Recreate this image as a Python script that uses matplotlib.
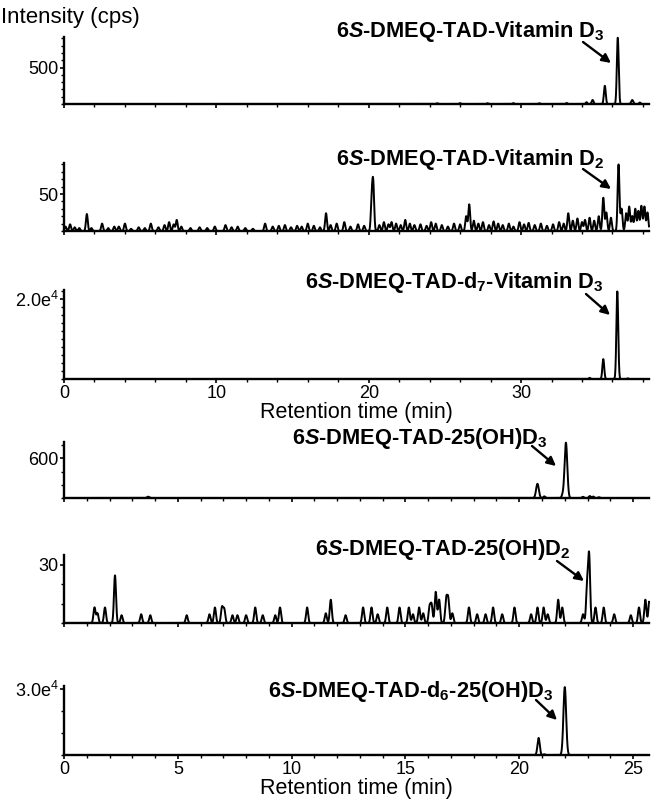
import numpy as np
import matplotlib
matplotlib.use("Agg")
import matplotlib.pyplot as plt
from matplotlib.ticker import MultipleLocator

plt.rcParams['font.family'] = 'Liberation Sans'
plt.rcParams['mathtext.fontset'] = 'custom'
plt.rcParams['mathtext.rm'] = 'Liberation Sans'
plt.rcParams['mathtext.it'] = 'Liberation Sans:italic'
plt.rcParams['mathtext.bf'] = 'Liberation Sans:bold'
plt.rcParams['mathtext.bfit'] = 'Liberation Sans:bold:italic'

# ---- data: peaks (time min, height cps, width min)
# Vitamin D3
d3_t = [24.5, 26.0, 27.8, 29.5, 31.2, 33.0, 34.3, 34.7, 35.5, 36.35, 37.3, 37.8]
d3_h = [10, 12, 10, 12, 10, 14, 25, 55, 250, 910, 55, 20]
d3_w = [0.05, 0.05, 0.05, 0.05, 0.05, 0.05, 0.05, 0.06, 0.06, 0.06, 0.07, 0.05]

# Vitamin D2 (noisy trace)
d2_t = [0.1, 0.4, 0.7, 1.0, 1.5, 1.8, 2.5, 2.9, 3.3, 3.6, 4.0, 4.4, 4.9, 5.3, 5.7, 6.2,
        6.6, 6.9, 7.2, 7.4, 7.7, 8.3, 8.9, 9.4, 9.9, 10.6, 11.0, 11.4, 11.9, 12.4, 13.2,
        13.7, 14.1, 14.5, 14.9, 15.3, 15.6, 16.0, 16.4, 16.8, 17.2, 17.5, 17.9, 18.4,
        18.8, 19.3, 19.7, 20.2, 20.3, 20.7, 21.0, 21.3, 21.5, 21.8, 22.1, 22.4, 22.7,
        23.0, 23.4, 23.8, 24.1, 24.4, 24.8, 25.2, 25.6, 26.0, 26.4, 26.6, 26.9, 27.2,
        27.5, 27.9, 28.2, 28.5, 28.8, 29.2, 29.5, 29.9, 30.2, 30.5, 30.9, 31.3, 31.7,
        32.1, 32.5, 32.8, 33.1, 33.4, 33.7, 34.0, 34.2, 34.5, 34.8, 35.1, 35.4, 35.6,
        35.9, 36.4, 36.6, 36.9, 37.1, 37.3, 37.5, 37.7, 37.9, 38.1, 38.3]
d2_h = [6, 9, 5, 4, 23, 4, 10, 4, 6, 6, 10, 3, 5, 4, 10, 5,
        8, 12, 9, 15, 6, 4, 5, 4, 6, 8, 5, 6, 4, 3, 10,
        6, 7, 8, 5, 7, 6, 10, 7, 5, 24, 8, 10, 12,
        6, 9, 7, 40, 60, 8, 12, 9, 12, 10, 8, 15, 10,
        8, 9, 7, 12, 10, 8, 6, 10, 9, 20, 36, 14, 10,
        12, 8, 13, 10, 8, 10, 6, 12, 9, 11, 8, 10, 7,
        9, 12, 10, 24, 14, 17, 12, 15, 18, 14, 20, 45, 25,
        18, 90, 30, 24, 33, 20, 30, 27, 34, 33, 25]

# d7-Vitamin D3
d7_t = [34.5, 35.4, 36.32, 37.0]
d7_h = [300, 5000, 22000, 150]
d7_w = [0.05, 0.06, 0.06, 0.05]

# 25(OH)D3
oh3_t = [3.7, 20.8, 21.1, 21.9, 22.05, 22.8, 23.1, 23.25, 23.5]
oh3_h = [20, 215, 25, 40, 840, 18, 30, 22, 12]
oh3_w = [0.05, 0.06, 0.04, 0.04, 0.06, 0.04, 0.04, 0.04, 0.04]

# 25(OH)D2 (noisy trace)
oh2_t = [1.34, 1.47, 1.80, 2.24, 2.53, 3.39, 3.79, 5.39, 6.39, 6.63, 6.94, 7.04, 7.40,
         7.62, 8.00, 8.40, 8.73, 9.28, 9.49, 10.68, 11.50, 11.72, 12.37, 13.14, 13.51,
         13.78, 14.20, 14.74, 15.15, 15.33, 15.60, 15.78, 16.06, 16.15, 16.33, 16.48,
         16.79, 16.88, 17.06, 17.79, 18.15, 18.52, 18.85, 19.25, 19.79, 20.52, 20.80,
         21.07, 21.25, 21.71, 21.89, 22.80, 22.98, 23.07, 23.35, 23.71, 24.17, 24.90,
         25.26, 25.54, 25.72]
oh2_h = [8, 5, 8, 24.5, 4, 4.5, 4, 4, 4.5, 8, 8, 7, 4,
         4, 4, 8, 4, 4, 8, 8, 5, 12, 4, 8, 8,
         4.5, 8, 8, 8, 4.5, 8, 5, 8, 9, 16, 12,
         12, 12, 5, 8, 4.5, 4.5, 8, 4.5, 8, 4.5, 8,
         8, 4.5, 12, 8, 4.5, 18, 34, 8, 8, 4.5, 4,
         8, 12, 12]

# d6-25(OH)D3
d6_t = [20.85, 21.1, 22.0]
d6_h = [7800, 300, 31000]
d6_w = [0.05, 0.04, 0.06]

titles = [
    r'6$\mathbfit{S}$-DMEQ-TAD-Vitamin D$_\mathbf{3}$',
    r'6$\mathbfit{S}$-DMEQ-TAD-Vitamin D$_\mathbf{2}$',
    r'6$\mathbfit{S}$-DMEQ-TAD-d$_\mathbf{7}$-Vitamin D$_\mathbf{3}$',
    r'6$\mathbfit{S}$-DMEQ-TAD-25(OH)D$_\mathbf{3}$',
    r'6$\mathbfit{S}$-DMEQ-TAD-25(OH)D$_\mathbf{2}$',
    r'6$\mathbfit{S}$-DMEQ-TAD-d$_\mathbf{6}$-25(OH)D$_\mathbf{3}$',
]


def trace(t, times, heights, widths):
    y = np.zeros_like(t)
    for c, h, w in zip(times, heights, widths):
        y += h * np.exp(-0.5 * ((t - c) / w) ** 2)
    return y


W, H = 651, 799
fig = plt.figure(figsize=(W / 100, H / 100), dpi=100)

# panel boxes in pixels: (top, bottom)
boxes = [(37, 104), (163, 231), (290, 379), (442, 498), (555, 623), (686, 755)]
xmax = [38.4, 38.4, 38.4, 25.7, 25.7, 25.7]
ymax = [920, 92, 22350, 850, 35, 31500]
yticks = [[500], [50], [2e4], [600], [30], [3e4]]
ylabels = [['500'], ['50'], ['2.0e$^4$'], ['600'], ['30'], ['3.0e$^4$']]
yminor = [100, 10, 2000, 200, 10, 1e4]
title_pos = [(605, 32), (605, 159), (604, 282), (547, 438), (570, 550), (553, 692)]
arrows = [((583, 42), (611, 63)), ((583, 169), (611, 189)), ((586, 294), (610, 315)),
          ((532, 446), (556, 466)), ((557, 561), (584, 581)), ((536, 700), (557, 720))]

peaks = [
    (d3_t, d3_h, d3_w),
    (d2_t, d2_h, [0.06] * len(d2_t)),
    (d7_t, d7_h, d7_w),
    (oh3_t, oh3_h, oh3_w),
    (oh2_t, oh2_h, [0.045] * len(oh2_t)),
    (d6_t, d6_h, d6_w),
]

for i in range(6):
    top, bot = boxes[i]
    ax = fig.add_axes([64 / W, 1 - bot / H, 585 / W, (bot - top) / H])
    t = np.linspace(0, xmax[i], 8000)
    y = trace(t, *peaks[i])
    ax.plot(t, y, color='black', lw=1.4, clip_on=False)
    ax.set_xlim(0, xmax[i])
    ax.set_ylim(0, ymax[i])
    for s in ['top', 'right']:
        ax.spines[s].set_visible(False)
    for s in ['left', 'bottom']:
        ax.spines[s].set_linewidth(1.7)
    ax.set_yticks(yticks[i])
    ax.set_yticklabels(ylabels[i])
    ax.yaxis.set_minor_locator(MultipleLocator(yminor[i]))
    if i < 3:
        ax.xaxis.set_major_locator(MultipleLocator(10))
        ax.xaxis.set_minor_locator(MultipleLocator(2))
    else:
        ax.xaxis.set_major_locator(MultipleLocator(5))
        ax.xaxis.set_minor_locator(MultipleLocator(1))
    ax.tick_params(which='major', length=3, width=1.2, labelsize=13, pad=1)
    ax.tick_params(which='minor', length=2, width=1)
    if i in (2, 5):
        ax.set_xlabel('Retention time (min)', fontsize=15.5, labelpad=0)
    else:
        ax.tick_params(axis='x', labelbottom=False)

    tx, ty = title_pos[i]
    fig.text(tx / W, 1 - ty / H, titles[i], ha='right', va='center',
             fontsize=15.7, fontweight='bold')
    (x0, y0), (x1, y1) = arrows[i]
    ax.annotate('', xy=(x1, H - y1), xytext=(x0, H - y0),
                xycoords='figure pixels', textcoords='figure pixels',
                arrowprops=dict(arrowstyle='-|>', color='black', lw=1.7,
                                mutation_scale=13, shrinkA=0, shrinkB=0))

fig.text(1 / W, 1 - 17 / H, 'Intensity (cps)', ha='left', va='center', fontsize=16)

fig.savefig('out.png', dpi=100)
